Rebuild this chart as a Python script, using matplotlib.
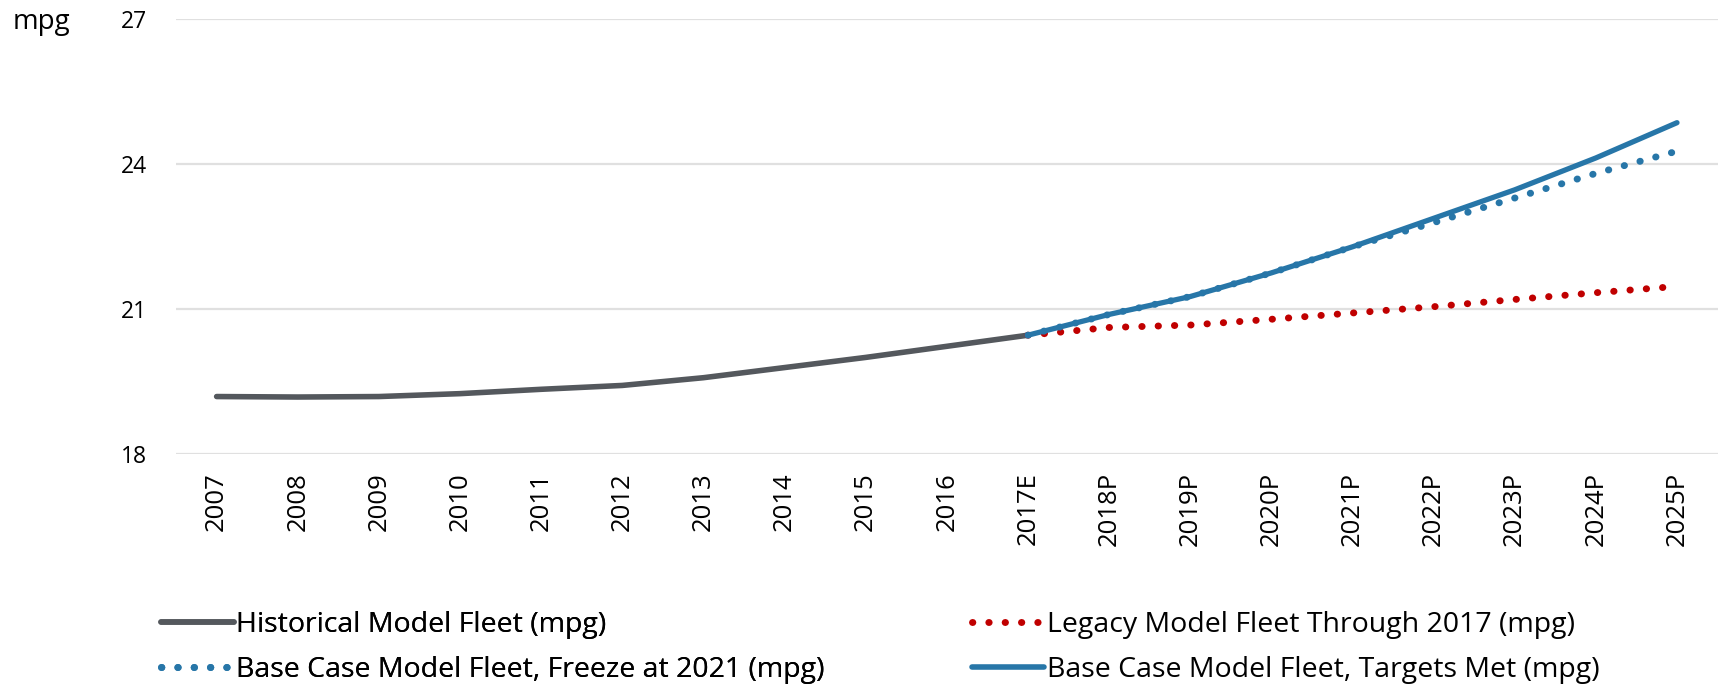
import matplotlib.pyplot as plt
from matplotlib.lines import Line2D

plt.rcParams['font.family'] = ['Open Sans', 'DejaVu Sans']

# ---------- data ----------
years = ["2007", "2008", "2009", "2010", "2011", "2012", "2013", "2014", "2015",
         "2016", "2017E", "2018P", "2019P", "2020P", "2021P", "2022P", "2023P",
         "2024P", "2025P"]

historical = [19.19, 19.18, 19.19, 19.25, 19.34, 19.42, 19.58, 19.79, 20.00,
              20.23, 20.46]
legacy = [20.46, 20.62, 20.67, 20.79, 20.92, 21.05, 21.20, 21.34, 21.47]
freeze = [20.46, 20.89, 21.26, 21.75, 22.29, 22.79, 23.30, 23.81, 24.27]
targets = [20.46, 20.89, 21.26, 21.75, 22.29, 22.88, 23.47, 24.13, 24.86]

lbl_hist = "Historical Model Fleet (mpg)"
lbl_legacy = "Legacy Model Fleet Through 2017 (mpg)"
lbl_freeze = "Base Case Model Fleet, Freeze at 2021 (mpg)"
lbl_targets = "Base Case Model Fleet, Targets Met (mpg)"

GREY = "#54585d"
RED = "#c00000"
BLUE = "#2776a8"
dots = (0, (0.05, 2.3))

# ---------- plotting ----------
fig = plt.figure(figsize=(17.21, 6.9), dpi=100)
ax = fig.add_axes([0.1023, 0.342, 0.8957, 0.63])

x_hist = list(range(len(historical)))
x_fut = list(range(10, 10 + len(legacy)))

ax.plot(x_hist, historical, color=GREY, lw=4, solid_capstyle='round', zorder=3)
ax.plot(x_fut, legacy, color=RED, lw=5, linestyle=dots, dash_capstyle='round', zorder=3)
ax.plot(x_fut, freeze, color=BLUE, lw=5, linestyle=dots, dash_capstyle='round', zorder=4)
ax.plot(x_fut, targets, color=BLUE, lw=3.8, solid_capstyle='round', zorder=5)

ax.set_xlim(-0.5, len(years) - 0.5)
ax.set_ylim(18, 27)
ax.set_yticks([18, 21, 24, 27])
ax.set_xticks(range(len(years)))
ax.set_xticklabels(years, rotation=90, va='top', ha='center')
ax.tick_params(axis='y', length=0, labelsize=16.5, pad=21)
ax.tick_params(axis='x', length=0, labelsize=18.5, pad=13)
ax.grid(axis='y', color='#e0e0e0', lw=1.6)
ax.set_axisbelow(True)
for s in ax.spines.values():
    s.set_visible(False)

fig.text(0.0075, 0.968, "mpg", fontsize=20, va='center', ha='left')

# legend in two blocks (row order matches reference)
def handle(color, ls, lw=4):
    return Line2D([], [], color=color, lw=lw, linestyle=ls,
                  solid_capstyle='round', dash_capstyle='round')

legkw = dict(loc='upper left', frameon=False, fontsize=20.5, handlelength=2.55,
             handletextpad=0.1, labelspacing=0.6, borderpad=0, borderaxespad=0)
leg1 = fig.legend([handle(GREY, '-'), handle(BLUE, dots, 5)], [lbl_hist, lbl_freeze],
                  bbox_to_anchor=(0.0935, 0.114), **legkw)
leg2 = fig.legend([handle(RED, dots, 5), handle(BLUE, '-')], [lbl_legacy, lbl_targets],
                  bbox_to_anchor=(0.5645, 0.114), **legkw)
fig.add_artist(leg1)

fig.savefig("out.png", dpi=100)
